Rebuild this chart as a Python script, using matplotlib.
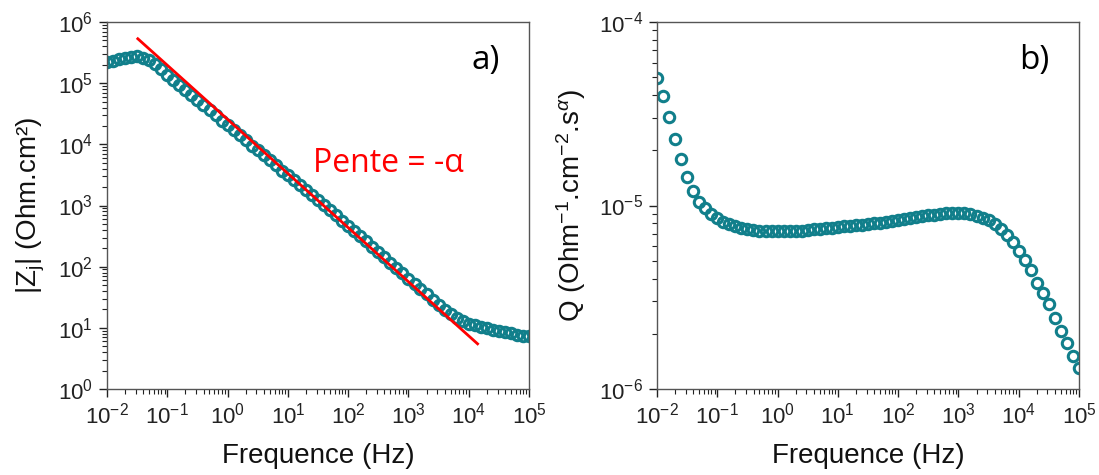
import matplotlib
matplotlib.use("Agg")
import matplotlib.pyplot as plt
from matplotlib.ticker import LogLocator, NullFormatter

plt.rcParams['font.family'] = ['Liberation Sans', 'DejaVu Sans']
plt.rcParams['mathtext.fontset'] = 'custom'
plt.rcParams['mathtext.rm'] = 'Liberation Sans'
plt.rcParams['mathtext.it'] = 'Liberation Sans:italic'
plt.rcParams['mathtext.bf'] = 'Liberation Sans:bold'
plt.rcParams['axes.unicode_minus'] = False

# ---- data ----
freq = [0.01, 0.0126, 0.0158, 0.02, 0.0251, 0.0316, 0.0398, 0.0501, 0.0631, 0.0794,
        0.1, 0.126, 0.158, 0.2, 0.251, 0.316, 0.398, 0.501, 0.631, 0.794,
        1.0, 1.26, 1.58, 2.0, 2.51, 3.16, 3.98, 5.01, 6.31, 7.94,
        10.0, 12.6, 15.8, 20.0, 25.1, 31.6, 39.8, 50.1, 63.1, 79.4,
        100.0, 126, 158, 200, 251, 316, 398, 501, 631, 794,
        1000.0, 1260, 1580, 2000, 2510, 3160, 3980, 5010, 6310, 7940,
        1e4, 1.26e4, 1.58e4, 2e4, 2.51e4, 3.16e4, 3.98e4, 5.01e4, 6.31e4, 7.94e4,
        1e5]

z_mod = [2.24e5, 2.34e5, 2.45e5, 2.57e5, 2.69e5, 2.75e5, 2.63e5, 2.40e5, 2.04e5, 1.70e5,
         1.38e5, 1.14e5, 9.38e4, 7.73e4, 6.37e4, 5.25e4, 4.33e4, 3.63e4, 3.02e4, 2.45e4,
         2.04e4, 1.74e4, 1.41e4, 1.17e4, 9.55e3, 7.94e3, 6.76e3, 5.50e3, 4.57e3, 3.72e3,
         3.16e3, 2.63e3, 2.14e3, 1.82e3, 1.48e3, 1.23e3, 1.02e3, 832, 692, 562,
         468, 389, 316, 263, 209, 174, 145, 115, 95.5, 77.6,
         63.1, 52.5, 42.7, 35.5, 28.8, 23.4, 19.5, 16.6, 14.5, 12.9,
         11.7, 11.0, 10.2, 9.77, 9.33, 8.91, 8.51, 8.13, 7.76, 7.50,
         7.24]

q_vals = [4.96e-5, 3.94e-5, 3.03e-5, 2.30e-5, 1.79e-5, 1.43e-5, 1.20e-5, 1.05e-5, 9.7e-6, 9.0e-6,
          8.5e-6, 8.15e-6, 7.9e-6, 7.7e-6, 7.55e-6, 7.45e-6, 7.37e-6, 7.3e-6, 7.26e-6, 7.23e-6,
          7.22e-6, 7.22e-6, 7.24e-6, 7.27e-6, 7.31e-6, 7.36e-6, 7.41e-6, 7.46e-6, 7.52e-6, 7.58e-6,
          7.64e-6, 7.70e-6, 7.76e-6, 7.82e-6, 7.87e-6, 7.93e-6, 8.00e-6, 8.08e-6, 8.17e-6, 8.27e-6,
          8.37e-6, 8.47e-6, 8.56e-6, 8.65e-6, 8.74e-6, 8.83e-6, 8.92e-6, 9.0e-6, 9.06e-6, 9.1e-6,
          9.1e-6, 9.05e-6, 8.95e-6, 8.8e-6, 8.6e-6, 8.3e-6, 7.95e-6, 7.45e-6, 6.9e-6, 6.3e-6,
          5.65e-6, 5.07e-6, 4.45e-6, 3.8e-6, 3.35e-6, 2.9e-6, 2.44e-6, 2.06e-6, 1.79e-6, 1.52e-6,
          1.30e-6]

# fitted slope line (two end points)
fit_freq = [0.0324, 1.4e4]
fit_z = [5.33e5, 5.48]

teal = '#117f8b'
fig = plt.figure(figsize=(10.99, 4.75), dpi=100)
axL = fig.add_axes([0.0974, 0.181, 0.384, 0.7726])
axR = fig.add_axes([0.5978, 0.181, 0.384, 0.7726])

for ax in (axL, axR):
    ax.set_xscale('log')
    ax.set_yscale('log')
    ax.set_xlim(1e-2, 1e5)
    ax.xaxis.set_major_locator(LogLocator(base=10, numticks=20))
    ax.xaxis.set_minor_locator(LogLocator(base=10, subs=range(2, 10), numticks=20))
    ax.xaxis.set_minor_formatter(NullFormatter())
    ax.yaxis.set_minor_formatter(NullFormatter())
    ax.tick_params(which='both', direction='out', top=False, right=False,
                   colors='#222222', labelsize=16)
    ax.tick_params(which='major', length=6, width=1, pad=4)
    ax.tick_params(which='minor', length=3.5, width=0.8)
    for s in ax.spines.values():
        s.set_color('#555555')
        s.set_linewidth(1)
    ax.set_xlabel('Frequence (Hz)', fontsize=20, labelpad=10, color='#111111')

axL.plot(freq, z_mod, linestyle='none', marker='o', markersize=7.5,
         markerfacecolor='none', markeredgecolor=teal, markeredgewidth=2.2)
axL.plot(fit_freq, fit_z, color='red', linewidth=2)
axL.set_ylim(1e0, 1e6)
axL.yaxis.set_major_locator(LogLocator(base=10, numticks=20))
axL.yaxis.set_minor_locator(LogLocator(base=10, subs=range(2, 10), numticks=20))
axL.set_ylabel(r'|Z$_\mathregular{j}$| (Ohm.cm²)', fontsize=20, labelpad=8, color='#111111')
axL.text(0.93, 0.895, 'a)', transform=axL.transAxes, fontsize=24,
         family=['Open Sans', 'DejaVu Sans'], ha='right', va='center')
axL.text(0.666, 0.615, 'Pente = -α', transform=axL.transAxes, fontsize=23, color='red',
         family=['Open Sans', 'DejaVu Sans'], ha='center', va='center')

axR.plot(freq, q_vals, linestyle='none', marker='o', markersize=7.5,
         markerfacecolor='none', markeredgecolor=teal, markeredgewidth=2.2)
axR.set_ylim(1e-6, 1e-4)
axR.yaxis.set_major_locator(LogLocator(base=10, numticks=20))
axR.yaxis.set_minor_locator(LogLocator(base=10, subs=range(2, 10), numticks=20))
axR.set_ylabel(r'Q (Ohm$^\mathregular{-1}$.cm$^\mathregular{-2}$.s$^{\alpha}$)', fontsize=20,
               labelpad=8, color='#111111')
axR.text(0.93, 0.895, 'b)', transform=axR.transAxes, fontsize=24,
         family=['Open Sans', 'DejaVu Sans'], ha='right', va='center')

fig.savefig('out.png', dpi=100)
